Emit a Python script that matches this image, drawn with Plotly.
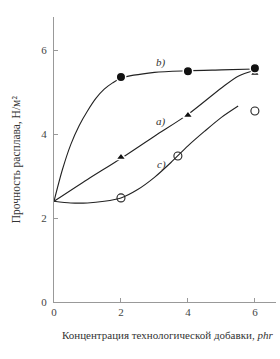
import plotly.graph_objects as go

# Curve traces
b_curve_x = [0, 0.25, 0.5, 0.75, 1.0, 1.25, 1.5, 1.75, 2, 3, 4, 5, 6]
b_curve_y = [2.4, 3.15, 3.75, 4.2, 4.55, 4.85, 5.07, 5.22, 5.33, 5.47, 5.51, 5.53, 5.55]
a_curve_x = [0, 1, 2, 3, 4, 5, 5.5, 6]
a_curve_y = [2.4, 2.92, 3.42, 3.95, 4.47, 5.1, 5.38, 5.52]
c_curve_x = [0, 0.5, 1, 1.5, 2, 2.5, 3, 3.5, 4, 4.5, 5, 5.5]
c_curve_y = [2.4, 2.36, 2.36, 2.4, 2.48, 2.68, 2.97, 3.33, 3.72, 4.07, 4.4, 4.67]

# Measured points
b_x = [2, 4, 6]
b_y = [5.36, 5.5, 5.57]
a_x = [2, 4, 6]
a_y = [3.45, 4.45, 5.45]
c_x = [2, 3.7, 6]
c_y = [2.48, 3.48, 4.55]

x_ticks = [0, 2, 4, 6]
y_ticks = [0, 2, 4, 6]

font_fam = "Liberation Serif, Times New Roman, serif"

fig = go.Figure()
for xs, ys in [(b_curve_x, b_curve_y), (a_curve_x, a_curve_y), (c_curve_x, c_curve_y)]:
    fig.add_trace(go.Scatter(x=xs, y=ys, mode="lines",
                             line=dict(color="#222", width=1.1, shape="spline", smoothing=0.8),
                             hoverinfo="skip"))

fig.add_trace(go.Scatter(x=a_x, y=a_y, mode="markers",
                         marker=dict(symbol="triangle-up", size=9, color="#111",
                                     line=dict(color="white", width=1.5))))
fig.add_trace(go.Scatter(x=b_x, y=b_y, mode="markers",
                         marker=dict(symbol="circle", size=9.5, color="#111",
                                     line=dict(color="white", width=1.5))))
fig.add_trace(go.Scatter(x=c_x, y=c_y, mode="markers",
                         marker=dict(symbol="circle-open", size=8, color="#222",
                                     line=dict(color="#222", width=1.1))))

labels = [("b)", 3.2, 5.7), ("a)", 3.2, 4.3), ("c)", 3.2, 3.28)]
for t, x, y in labels:
    fig.add_annotation(x=x, y=y, text="<i>%s</i>" % t, showarrow=False,
                       font=dict(family=font_fam, size=11, color="#333"))

fig.add_annotation(xref="paper", yref="paper", x=0.51, y=-0.116, xanchor="center", yanchor="middle",
                   text="Концентрация технологической добавки, <i>phr</i>", showarrow=False,
                   font=dict(family=font_fam, size=11, color="#333"))
fig.add_annotation(xref="paper", yref="paper", x=-0.168, y=0.5, xanchor="center", yanchor="middle",
                   text="Прочность расплава, Н/м²", textangle=-90, showarrow=False,
                   font=dict(family=font_fam, size=11.5, color="#333"))

axis_common = dict(showgrid=False, zeroline=False, showline=True, linecolor="#999", linewidth=1,
                   ticks="inside", ticklen=4, tickcolor="#999", tickwidth=1,
                   tickfont=dict(family=font_fam, size=11, color="#444"))
fig.update_xaxes(range=[0, 6.63], tickvals=x_ticks, ticktext=[str(v) for v in x_ticks], **axis_common)
fig.update_yaxes(range=[0, 6.79], tickvals=y_ticks, ticktext=[str(v) for v in y_ticks],
                 ticklabelstandoff=4, **axis_common)

fig.update_layout(width=280, height=359, margin=dict(l=54, r=4, t=17, b=57),
                  plot_bgcolor="white", paper_bgcolor="white", showlegend=False)

fig.write_html("out.html")
